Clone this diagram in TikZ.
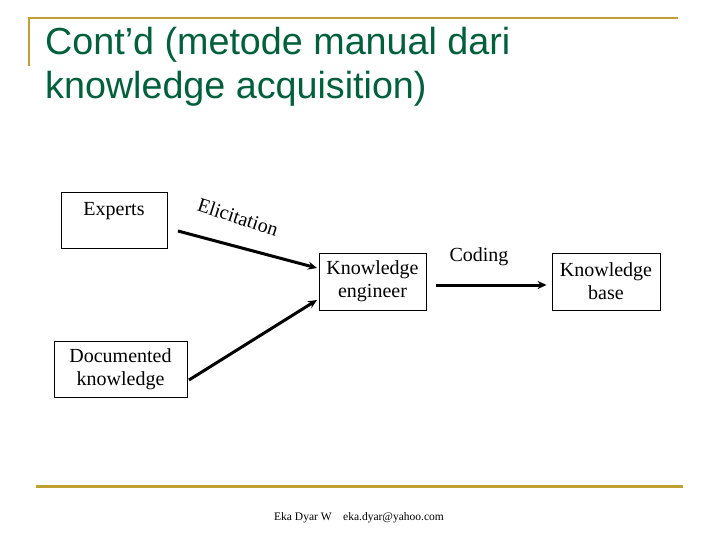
\documentclass[tikz,border=0pt]{standalone}
\usepackage{fontspec}
\setmainfont{Liberation Serif}
\newfontfamily\titlefont{Liberation Sans}
\usetikzlibrary{arrows.meta}
\definecolor{slidegold}{RGB}{192,160,48}
\definecolor{slidegreen}{RGB}{0,96,60}

\begin{document}
\begin{tikzpicture}[x=1pt,y=-1pt,
    box/.style={draw, line width=0.8pt, inner sep=0pt, align=center, font=\fontsize{20}{23}\selectfont},
    flow/.style={line width=3pt, -{Stealth[length=9pt,width=8pt]}},
    headline/.style={anchor=base west, inner sep=0pt, text=slidegreen, font=\titlefont\fontsize{37.7}{44}\selectfont}]
      \useasboundingbox (0,0) rectangle (720,540);
      % slide frame
      \draw[slidegold, line width=2.5pt] (29,66) -- (29,18) -- (678,18);
      \draw[slidegold, line width=3pt] (36,486) -- (683,486);
      \node[headline] (title1) at (45,55) {Cont’d (metode manual dari};
      \node[headline] (title2) at (45,99) {knowledge acquisition)};

      % boxes
      \node[box, text width=106pt, text height=23pt, text depth=33pt] (experts) at (114,220) {Experts};
      \node[box, minimum width=107pt, minimum height=57pt] (engineer) at (372.5,281.5) {\raisebox{-3pt}{\parbox{100pt}{\centering Knowledge\\engineer}}};
      \node[box, minimum width=108pt, minimum height=57pt] (kbase) at (606,281.5) {\raisebox{-3pt}{\parbox{100pt}{\centering Knowledge\\base}}};
      \node[box, minimum width=133pt, minimum height=56pt] (documented) at (120.5,369) {Documented\\knowledge};

      % arrows
      \coordinate (elicit-a) at (178,231);
      \coordinate (elicit-b) at (317,268);
      \coordinate (doc-a) at (189,380);
      \coordinate (doc-b) at (317,300);
      \draw[flow] (elicit-a) -- (elicit-b);
      \draw[flow] (doc-a) -- (doc-b);
      \draw[flow] ([xshift=10pt,yshift=-3.5pt]engineer.east) -- ([xshift=-5pt,yshift=-3.5pt]kbase.west);
      \node[rotate=-18, font=\fontsize{20}{23}\selectfont] (elicit) at (238,217) {Elicitation};
      \node[font=\fontsize{20}{23}\selectfont] (coding) at (479,257) {Coding};

      %\draw (360,300) node{...};
      \node[anchor=base, font=\fontsize{11.5}{13}\selectfont] (footer) at (359,520) {Eka Dyar W\quad eka.dyar@yahoo.com};
\end{tikzpicture}
\end{document}
